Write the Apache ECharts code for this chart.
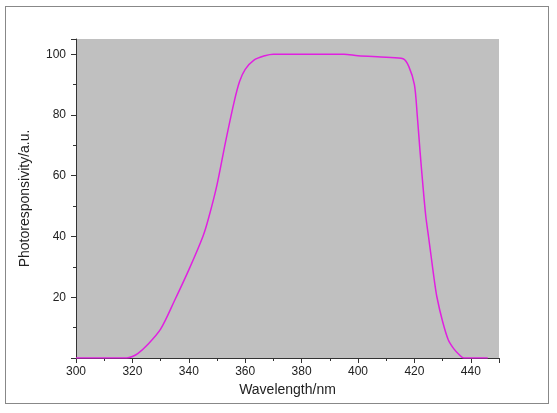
<!DOCTYPE html>
<html><head><meta charset="utf-8">
<script src="https://cdn.jsdelivr.net/npm/echarts@6/dist/echarts.min.js"></script>
<style>body{margin:0;background:#fff}#c{width:557px;height:413px}
#f{position:absolute;left:5px;top:6px;width:544px;height:398px;border:1px solid #888;box-sizing:border-box}</style>
</head><body><div id="f"></div><div id="c"></div>
<script>
var wavelength = [300,318,320,322,325,330,335,340,345,347,350,353,356,358,360,363,367,370,380,390,395,400,410,416,418,420,421,422,423,424,425,426,427,428,430,432,434,436,437.5,446];
var response   = [0,0,0.5,1.5,4,9.5,19,29,40,46,57,71,84,91,95,98,99.5,100,100,100,100,99.5,99,98.5,96,90,80,68,57,47,40,33,26,20,12,6,3,1,0,0];
var xTicks = [300,320,340,360,380,400,420,440];
var yTicks = [20,40,60,80,100];

var chart = echarts.init(document.getElementById('c'));
var axisText = {color:'#222', fontFamily:'Liberation Sans', fontSize:12};
chart.setOption({
  animation:false,
  grid:{left:76,right:58,top:39,bottom:55,show:true,backgroundColor:'#c0c0c0',borderWidth:0},
  xAxis:{type:'value',min:300,max:450,interval:20,
    name:'Wavelength/nm',nameLocation:'middle',nameGap:22,
    nameTextStyle:{color:'#222',fontFamily:'Liberation Sans',fontSize:14},
    axisLine:{lineStyle:{color:'#333'}},axisTick:{inside:false,length:5,lineStyle:{color:'#333'}},
    minorTick:{show:true,splitNumber:2,length:3,lineStyle:{color:'#333'}},
    axisLabel:Object.assign({margin:8,formatter:function(v){return xTicks.indexOf(v)>=0?v:'';}},axisText),
    splitLine:{show:false}},
  yAxis:{type:'value',min:0,max:105,interval:20,
    name:'Photoresponsivity/a.u.',nameLocation:'middle',nameGap:44,
    nameTextStyle:{color:'#222',fontFamily:'Liberation Sans',fontSize:14},
    axisLine:{show:true,lineStyle:{color:'#333'}},axisTick:{show:true,length:5,lineStyle:{color:'#333'}},
    minorTick:{show:true,splitNumber:2,length:3,lineStyle:{color:'#333'}},
    axisLabel:Object.assign({margin:10,formatter:function(v){return yTicks.indexOf(v)>=0?v:'';}},axisText),
    splitLine:{show:false}},
  series:[{type:'line',data:wavelength.map(function(w,i){return [w,response[i]];}),
    showSymbol:false,smooth:0.3,lineStyle:{color:'#e020e0',width:1.5}}]
});
</script></body></html>
